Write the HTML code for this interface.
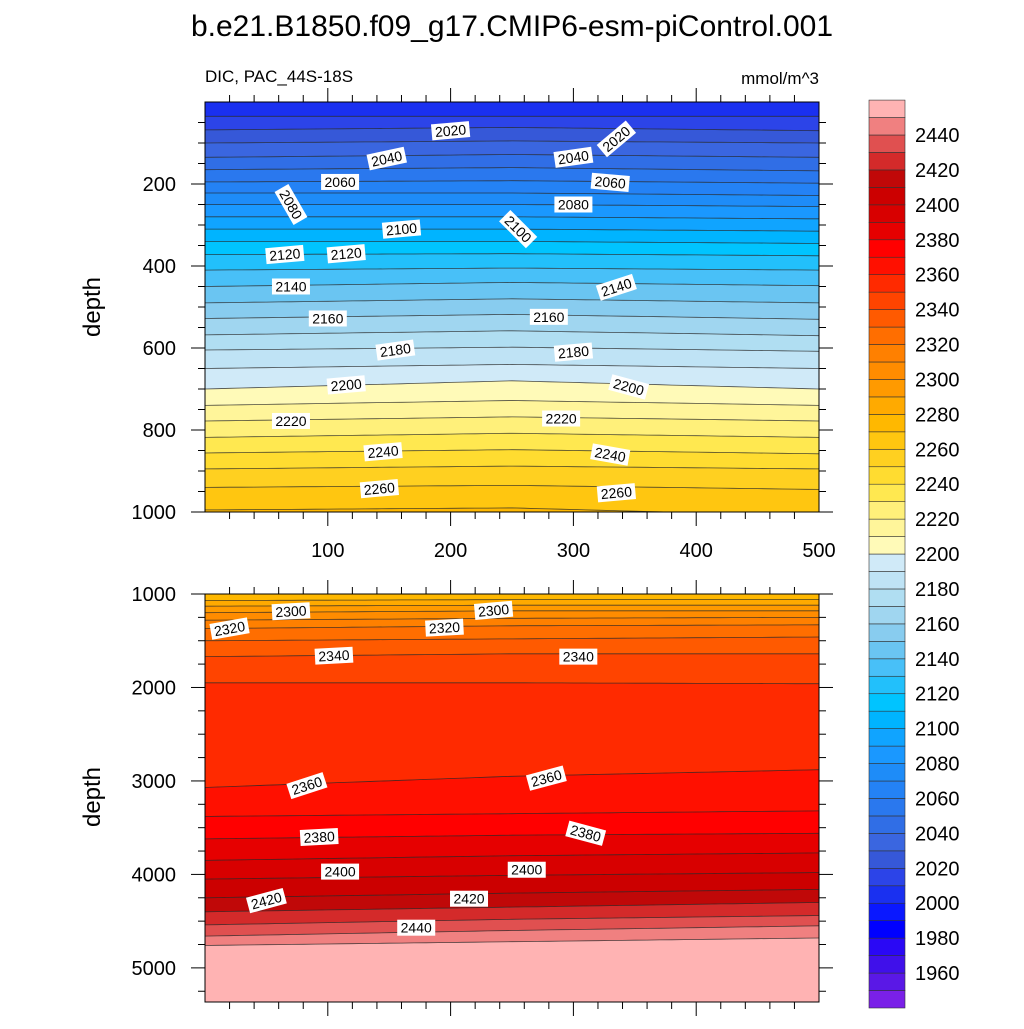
<!DOCTYPE html>
<html><head><meta charset="utf-8"><style>
body{margin:0;background:#fff;}
svg text{font-family:"Liberation Sans",sans-serif;}
</style></head><body>
<svg id="chart" width="1024" height="1024" viewBox="0 0 1024 1024" xmlns="http://www.w3.org/2000/svg">
<text x="512" y="36" font-size="30" text-anchor="middle">b.e21.B1850.f09_g17.CMIP6-esm-piControl.001</text>
<text x="205" y="82" font-size="17">DIC, PAC_44S-18S</text>
<text x="819" y="84" font-size="17" text-anchor="end">mmol/m^3</text>
<g id="gtop"></g>
<g id="gbot"></g>
<g id="cbar"></g>
</svg>
<script>
// colour levels (1950..2450 step 10) and fill colours (lowest band first)
const levels = [];
for (let v = 1950; v <= 2450; v += 10) levels.push(v);
const colors = ["#7a20e8","#5a18e6","#4010ea","#2a08f5","#0000ff","#0a18ff","#1a30f0","#2c44e8","#3658d8","#3a66e0","#306ee6","#2a78ee","#2482f5","#1e8cf8","#1a98ff","#10a4ff","#00b4ff","#00c4ff","#22c0fb","#48c0f8","#6ac5f2","#88ccef","#a0d6f0","#b0def2","#bfe3f5","#d0eaf8","#fffab8","#fff59a","#fff07a","#ffe850","#ffdc30","#ffd020","#ffc610","#ffb800","#ffaa00","#ff9a00","#ff8c00","#ff8000","#ff6e00","#ff5a00","#ff4400","#ff2a00","#ff1000","#ff0000","#e60000","#d80000","#cc0000","#c00808","#d42a2a","#e05050","#f08080","#ffb3b3"];
// upper panel contour depths at x = 0, 250, 500
const topLevels = [2010,2020,2030,2040,2050,2060,2070,2080,2090,2100,2110,2120,2130,2140,2150,2160,2170,2180,2190,2200,2210,2220,2230,2240,2250,2260,2270];
const topDepthL = [35,68,100,135,165,195,222,250,280,310,340,372,410,450,490,528,568,605,650,700,740,778,818,856,895,940,995];
const topDepthM = [35,62,95,128,160,192,222,250,280,310,340,370,405,440,480,518,558,598,640,680,728,768,808,848,888,935,990];
const topDepthR = [35,70,100,135,168,198,228,255,285,315,345,375,410,448,490,530,570,608,650,700,740,778,818,858,895,945,1010];
// lower panel contour depths
const botLevels = [2280,2290,2300,2310,2320,2330,2340,2350,2360,2370,2380,2390,2400,2410,2420,2430,2440,2450];
const botDepthL = [1070,1130,1200,1280,1370,1500,1670,1950,3070,3380,3620,3850,4050,4250,4400,4540,4660,4760];
const botDepthM = [1060,1120,1180,1260,1340,1480,1640,1950,2950,3350,3580,3800,4010,4200,4350,4480,4600,4720];
const botDepthR = [1060,1120,1180,1250,1330,1460,1640,1960,2880,3320,3560,3770,3980,4160,4300,4440,4550,4680];
// contour labels: [x, depth, value, angle]
const topLabels = [[200,70,2020,-5],[335,90,2020,-40],[148,138,2040,-12],[300,135,2040,-8],[110,195,2060,0],[330,196,2060,5],[70,250,2080,60],[300,250,2080,0],[160,310,2100,-5],[255,310,2100,45],[65,372,2120,-5],[115,370,2120,-5],[70,450,2140,0],[335,452,2140,-18],[100,528,2160,0],[280,524,2160,0],[155,605,2180,-8],[300,610,2180,-5],[115,690,2200,-5],[345,695,2200,15],[70,778,2220,0],[290,772,2220,0],[145,853,2240,-5],[330,860,2240,10],[142,943,2260,-5],[335,953,2260,-5]];
const botLabels = [[70,1185,2300,-3],[235,1175,2300,-5],[20,1370,2320,-10],[195,1360,2320,-3],[105,1660,2340,-3],[304,1670,2340,0],[83,3050,2360,-18],[278,2970,2360,-15],[93,3600,2380,-3],[310,3560,2380,15],[110,3970,2400,0],[262,3950,2400,0],[50,4280,2420,-15],[215,4260,2420,0],[172,4570,2440,0]];

const NS = "http://www.w3.org/2000/svg";
function mk(tag, attrs, parent){const e=document.createElementNS(NS,tag);for(const k in attrs)e.setAttribute(k,attrs[k]);parent.appendChild(e);return e;}
function colorFor(lo){return colors[Math.max(0,Math.min(colors.length-1, Math.round((lo-1940)/10)))];}
const X0=205,X1=819;
const xs = v => X0 + v/500*(X1-X0);

function panel(g, y0, y1, d0, d1, lvls, dL, dM, dR, labels){
  const ys = d => y0 + (d-d0)/(d1-d0)*(y1-y0);
  const lineY = (i,x)=> x<=250 ? dL[i]+(dM[i]-dL[i])*x/250 : dM[i]+(dR[i]-dM[i])*(x-250)/250;
  const xsamp=[]; for(let x=0;x<=500;x+=10) xsamp.push(x);
  const clip = mk("clipPath",{id:"clip"+y0},g);
  mk("rect",{x:X0,y:y0,width:X1-X0,height:y1-y0},clip);
  const cg = mk("g",{"clip-path":"url(#clip"+y0+")"},g);
  const n=lvls.length;
  for(let i=-1;i<n;i++){
    const tp = i<0 ? xsamp.map(x=>[xs(x),y0-5]) : xsamp.map(x=>[xs(x),ys(lineY(i,x))]);
    const bt = i==n-1 ? xsamp.map(x=>[xs(x),y1+5]) : xsamp.map(x=>[xs(x),ys(lineY(i+1,x))]);
    const pts = tp.concat(bt.reverse()).map(p=>p[0].toFixed(1)+","+p[1].toFixed(1)).join(" ");
    const lo = i<0 ? lvls[0]-10 : lvls[i];
    const b = mk("polygon",{points:pts,fill:colorFor(lo)},cg);
    
    
  }
  for(let i=0;i<n;i++){
    const pts = xsamp.map(x=>xs(x).toFixed(1)+","+ys(lineY(i,x)).toFixed(1)).join(" ");
    const l = mk("polyline",{points:pts,fill:"none",stroke:"#222","stroke-width":0.8,"stroke-opacity":0.8},cg);
    
    
  }
  labels.forEach(lb=>{
    const cx=xs(lb[0]), cy=ys(lb[1]);
    const lg = mk("g",{transform:`translate(${cx},${cy}) rotate(${lb[3]})`},cg);
    
    
    mk("rect",{x:-19,y:-8,width:38,height:16,fill:"#fff"},lg);
    const t=mk("text",{x:0,y:5,"font-size":14,"text-anchor":"middle"},lg); t.textContent=lb[2];
  });
  mk("rect",{x:X0,y:y0,width:X1-X0,height:y1-y0,fill:"none",stroke:"#000","stroke-width":1},g);
  return ys;
}

const gTop=document.getElementById('gtop'), gBot=document.getElementById('gbot');
const ysT = panel(gTop,102,512,0,1000,topLevels,topDepthL,topDepthM,topDepthR,topLabels);
const ysB = panel(gBot,594,1002,1000,5365,botLevels,botDepthL,botDepthM,botDepthR,botLabels);

function xTicks(g, y0, y1, labelled){
  for(let v=20; v<500; v+=20){
    const major = v%100===0, x=xs(v), len= major?14:7;
    mk("line",{x1:x,y1:y1,x2:x,y2:y1+len,stroke:"#000"},g);
    mk("line",{x1:x,y1:y0,x2:x,y2:y0-len,stroke:"#000"},g);
  }
  if(labelled) for(let v=100; v<=500; v+=100){
    const t=mk("text",{x:xs(v),y:y1+45,"font-size":20,"text-anchor":"middle"},g); t.textContent=v;
     
  }
}
function yTicks(g, ys, dmin, dmax, minor, majors){
  for(let d=dmin; d<=dmax; d+=minor){
    const y=ys(d), major=majors.includes(d), len=major?14:7;
    mk("line",{x1:X0,y1:y,x2:X0-len,y2:y,stroke:"#000"},g);
    mk("line",{x1:X1,y1:y,x2:X1+len,y2:y,stroke:"#000"},g);
  }
  majors.forEach(d=>{
    const t=mk("text",{x:176,y:ys(d)+7,"font-size":20,"text-anchor":"end"},g); t.textContent=d;
     
  });
}
xTicks(gTop,102,512,true); xTicks(gBot,594,1002,false);
yTicks(gTop,ysT,50,1000,50,[200,400,600,800,1000]);
yTicks(gBot,ysB,1000,5250,250,[1000,2000,3000,4000,5000]);
[[gTop,307],[gBot,797]].forEach(([g,y])=>{
  const t=mk("text",{x:100,y:y,"font-size":24,"text-anchor":"middle",transform:`rotate(-90 100 ${y})`},g);
  t.textContent="depth";  
});

// colorbar
const cb=document.getElementById('cbar');
const cyy = v => 135 + (2440-v)*1.746;
for(let i=0;i<colors.length;i++){
  const lo = 1940+i*10;
  const r=mk("rect",{x:869,y:cyy(lo+10),width:36,height:cyy(lo)-cyy(lo+10),fill:colors[i],stroke:"#333","stroke-width":0.6},cb);
  
  
}
for(let v=1960; v<=2440; v+=20){
  const t=mk("text",{x:915,y:cyy(v)+7,"font-size":20},cb); t.textContent=v;
   
}
</script>
</body></html>
